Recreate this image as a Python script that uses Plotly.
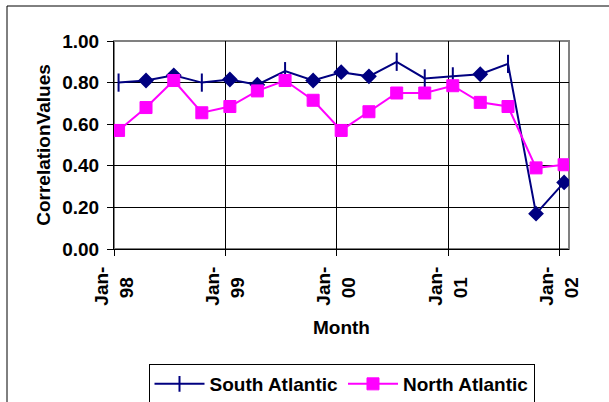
import pandas as pd
import plotly.graph_objects as go

# Quarterly correlation values, Jan 1998 - Jan 2002
months = ["1998-01", "1998-04", "1998-07", "1998-10",
          "1999-01", "1999-04", "1999-07", "1999-10",
          "2000-01", "2000-04", "2000-07", "2000-10",
          "2001-01", "2001-04", "2001-07", "2001-10",
          "2002-01"]
south_atlantic = [0.80, 0.81, 0.835, 0.80, 0.815, 0.79, 0.855, 0.81, 0.85,
                  0.83, 0.90, 0.82, 0.83, 0.84, 0.89, 0.17, 0.32]
north_atlantic = [0.57, 0.68, 0.81, 0.655, 0.685, 0.76, 0.81, 0.715, 0.57,
                  0.66, 0.75, 0.75, 0.785, 0.705, 0.685, 0.39, 0.405]
year_ticks = ["1998-01-01", "1999-01-01", "2000-01-01", "2001-01-01", "2002-01-01"]
year_labels = ["Jan-<br>98&nbsp;&nbsp;", "Jan-<br>99&nbsp;&nbsp;", "Jan-<br>00&nbsp;&nbsp;",
               "Jan-<br>01&nbsp;&nbsp;", "Jan-<br>02&nbsp;&nbsp;"]

# points sit in the middle of their month on the date axis
x = pd.to_datetime(months) + pd.Timedelta(days=15)

FONT = "Liberation Sans, Arial, sans-serif"
FS = 19
NAVY = "#000080"
MAGENTA = "#FF00FF"

south_symbols = ["line-ns", "diamond", "diamond", "line-ns", "diamond", "diamond",
                 "line-ns", "diamond", "diamond", "diamond", "line-ns", "line-ns",
                 "line-ns", "diamond", "line-ns", "diamond", "diamond"]
south_sizes = [13 if s == "line-ns" else 10 for s in south_symbols]

fig = go.Figure()
fig.add_trace(go.Scatter(
    x=x, y=south_atlantic, name="South Atlantic", mode="lines+markers",
    line=dict(color=NAVY, width=2),
    marker=dict(symbol=south_symbols, size=south_sizes, color=NAVY, opacity=1,
                line=dict(color=NAVY, width=2)),
))
fig.add_trace(go.Scatter(
    x=x, y=north_atlantic, name="North Atlantic", mode="lines+markers",
    line=dict(color=MAGENTA, width=2),
    marker=dict(symbol="square", size=12, color=MAGENTA, opacity=1,
                line=dict(color=MAGENTA, width=1)),
))

W, H = 609, 402
ml, mr, mt, mb = 114, 40, 41, 153
pw, ph = W - ml - mr, H - mt - mb


def px_to_paper(px, py):
    return (px - ml) / pw, (H - mb - py) / ph


# outer chart frame (left and top edges visible)
x0, y0 = px_to_paper(7, 6)
x1, y1 = px_to_paper(640, 440)
fig.add_shape(type="rect", xref="paper", yref="paper", x0=x0, y0=y1, x1=x1, y1=y0,
              line=dict(color="#000000", width=1), layer="below")
# plot area border
fig.add_shape(type="rect", xref="paper", yref="paper", x0=0, y0=0, x1=1, y1=1,
              line=dict(color="#808080", width=2), layer="below")

fig.update_layout(
    width=W, height=H,
    margin=dict(l=ml, r=mr, t=mt, b=mb, autoexpand=False),
    paper_bgcolor="white", plot_bgcolor="white",
    font=dict(family=FONT, size=FS, color="#000000", weight="bold"),
    showlegend=True,
    legend=dict(orientation="h", x=0.5, xanchor="center",
                y=px_to_paper(0, 364)[1], yanchor="top",
                bordercolor="#000000", borderwidth=1, bgcolor="white",
                font=dict(family=FONT, size=FS, weight="bold"),
                itemwidth=50, tracegroupgap=0),
)
fig.update_xaxes(
    type="date", range=["1998-01-01", "2002-02-01"],
    tickmode="array", tickvals=year_ticks, ticktext=year_labels, tickangle=-90,
    ticks="outside", ticklen=6, tickcolor="#000000", tickwidth=1,
    ticklabelstandoff=3,
    showgrid=True, gridcolor="#000000", gridwidth=1,
    showline=True, linecolor="#000000", linewidth=1,
    zeroline=False, automargin=False,
    title=dict(text="Month", standoff=16, font=dict(family=FONT, size=FS, weight="bold")),
    tickfont=dict(family=FONT, size=FS, weight="bold"),
)
fig.update_yaxes(
    range=[0, 1], tickmode="linear", tick0=0, dtick=0.2, tickformat=".2f",
    ticks="outside", ticklen=6, tickcolor="#000000", tickwidth=1,
    ticklabelstandoff=4,
    showgrid=True, gridcolor="#000000", gridwidth=1,
    showline=True, linecolor="#000000", linewidth=1,
    zeroline=False, automargin=False,
    title=dict(text="CorrelationValues", standoff=6,
               font=dict(family=FONT, size=FS, weight="bold")),
    tickfont=dict(family=FONT, size=FS, weight="bold"),
)

fig.write_html("out.html")
